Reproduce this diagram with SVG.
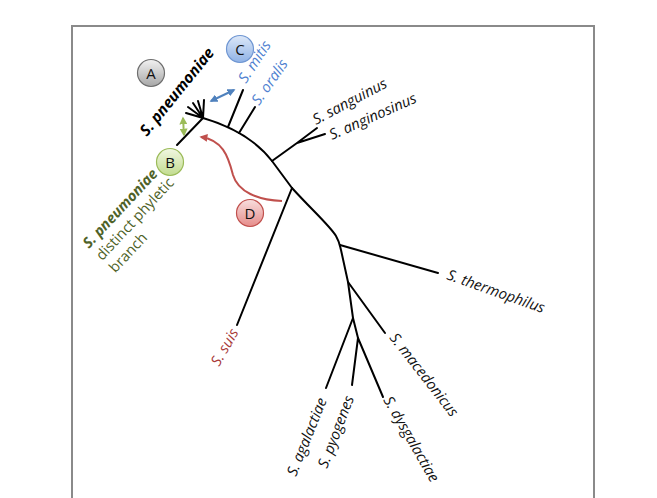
<svg xmlns="http://www.w3.org/2000/svg" width="657" height="498" viewBox="0 0 657 498">
<defs>
<style>
.br{fill:none;stroke:#000;stroke-width:2;stroke-linecap:round;stroke-linejoin:round}
.sp{font-family:"Open Sans","DejaVu Sans",sans-serif;font-style:italic;font-size:14.8px;fill:#111}
.blue{fill:#4f81d0}
.red{fill:#a83a3a}
.grn{font-family:"Open Sans","DejaVu Sans",sans-serif;font-size:14.6px;fill:#4f6228}
.lbl{font-family:"Open Sans","DejaVu Sans",sans-serif;font-size:15px;fill:#111;text-anchor:middle}
</style>
<linearGradient id="gA" x1="0" y1="0" x2="0" y2="1"><stop offset="0" stop-color="#f2f2f2"/><stop offset="1" stop-color="#a6a6a6"/></linearGradient>
<linearGradient id="gB" x1="0" y1="0" x2="0" y2="1"><stop offset="0" stop-color="#f1f7e2"/><stop offset="1" stop-color="#c2dc8f"/></linearGradient>
<linearGradient id="gC" x1="0" y1="0" x2="0" y2="1"><stop offset="0" stop-color="#dde8f8"/><stop offset="1" stop-color="#8fb2e6"/></linearGradient>
<linearGradient id="gD" x1="0" y1="0" x2="0" y2="1"><stop offset="0" stop-color="#f8dede"/><stop offset="1" stop-color="#e68c8a"/></linearGradient>
<marker id="mb" viewBox="0 0 10 10" refX="8" refY="5" markerWidth="4" markerHeight="4" orient="auto-start-reverse"><path d="M0,0 L10,5 L0,10 z" fill="#4f81bd"/></marker>
<marker id="mg" viewBox="0 0 10 10" refX="8" refY="5" markerWidth="4" markerHeight="4" orient="auto-start-reverse"><path d="M0,0 L10,5 L0,10 z" fill="#9bbb59"/></marker>
<marker id="mr" viewBox="0 0 10 10" refX="8" refY="5" markerWidth="4" markerHeight="4" orient="auto"><path d="M0,0 L10,5 L0,10 z" fill="#c0504d"/></marker>
</defs>
<rect width="657" height="498" fill="#fff"/>
<rect x="72" y="26" width="522" height="490" fill="none" stroke="#8a8a8a" stroke-width="2"/>

<g id="connectors">
<path class="br" d="M203,118 C230,126 256,140 272,161 L292,188 C312,210 330,226 336,236 C340,243 340,247 341,250 L348,282 L353,318 L358,338"/>
<path class="br" d="M203,118 L177,145"/>
<path class="br" d="M203,118 L186,113 M203,118 L188,107 M203,118 L193,103 M203,118 L198,101 M203,118 L204,100"/>
<path class="br" d="M228,127 L243,90"/>
<path class="br" d="M239,133 L255,107"/>
<path class="br" d="M272,161 L297,143 L317,128 M297,143 L325,134"/>
<path class="br" d="M340,245 L438,273"/>
<path class="br" d="M348,282 L385,333"/>
<path class="br" d="M292,188 L237,325"/>
<path class="br" d="M353,318 L326,388"/>
<path class="br" d="M358,338 L352,385 M358,338 L383,397"/>
<path d="M211,101 L234,90" fill="none" stroke="#4f81bd" stroke-width="2" marker-start="url(#mb)" marker-end="url(#mb)"/>
<path d="M183,118 L184,135" fill="none" stroke="#9bbb59" stroke-width="2" marker-start="url(#mg)" marker-end="url(#mg)"/>
<path d="M282,201 C258,200 238,192 233,175 C228,155 222,140 201,137" fill="none" stroke="#c0504d" stroke-width="2" marker-end="url(#mr)"/>
</g>

<g id="labels">
<text class="sp" transform="translate(147,137) rotate(-51)" style="font-weight:bold;font-size:15.5px;fill:#000">S. pneumoniae</text>
<text class="sp blue" transform="translate(246,84) rotate(-57)">S. mitis</text>
<text class="sp blue" transform="translate(259,106) rotate(-55)">S. oralis</text>
<text class="sp" transform="translate(316,125) rotate(-28)">S. sanguinus</text>
<text class="sp" transform="translate(332,140) rotate(-24)">S. anginosinus</text>
<text class="sp" transform="translate(446,279) rotate(19.5)">S. thermophilus</text>
<text class="sp" transform="translate(389,338) rotate(52)">S. macedonicus</text>
<text class="sp" transform="translate(383,400) rotate(60)">S. dysgalactiae</text>
<text class="sp" transform="translate(327,469) rotate(-69)">S. pyogenes</text>
<text class="sp" transform="translate(296,477) rotate(-68)">S. agalactiae</text>
<text class="sp red" transform="translate(219,367) rotate(-60)">S. suis</text>
<g transform="translate(89,249) rotate(-47)">
<text class="grn" x="0" y="0" style="font-weight:bold;font-style:italic">S. pneumoniae</text>
<text class="grn" x="0" y="18">distinct phyletic</text>
<text class="grn" x="0" y="36">branch</text>
</g>
</g>

<g id="nodeA"><circle cx="151" cy="73" r="13.5" fill="url(#gA)" stroke="#6e6e6e" stroke-width="1.2"/><text class="lbl" x="151" y="78.5">A</text></g>
<g id="nodeB"><circle cx="170" cy="162" r="13.5" fill="url(#gB)" stroke="#9bbb59" stroke-width="1.2"/><text class="lbl" x="170" y="167.5">B</text></g>
<g id="nodeC"><circle cx="240" cy="49" r="13.5" fill="url(#gC)" stroke="#6f96d2" stroke-width="1.2"/><text class="lbl" x="240" y="54.5">C</text></g>
<g id="nodeD"><circle cx="250" cy="213" r="13.5" fill="url(#gD)" stroke="#c0504d" stroke-width="1.2"/><text class="lbl" x="250" y="218.5">D</text></g>
</svg>
